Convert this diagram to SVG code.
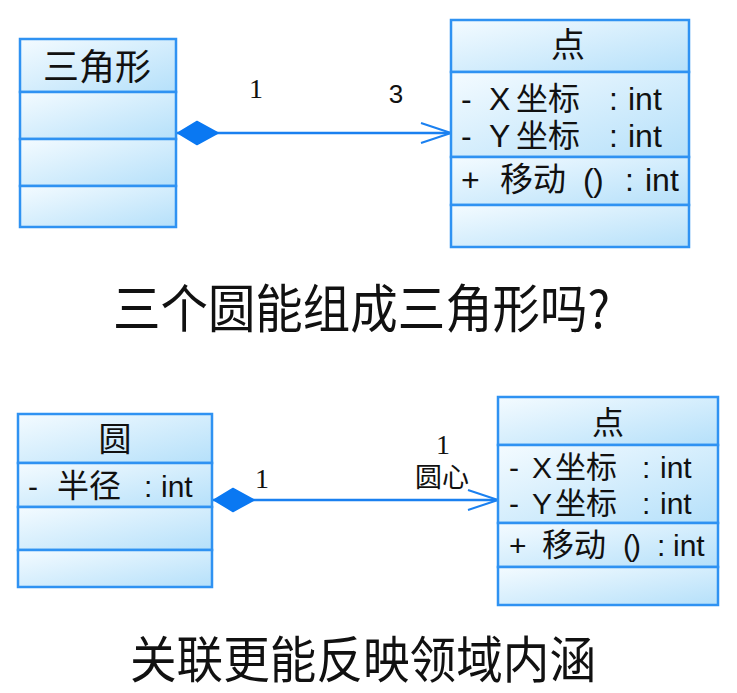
<svg xmlns="http://www.w3.org/2000/svg" width="737" height="693" viewBox="0 0 737 693">
<style>
  .cmp { fill: url(#g); stroke: #2f92f2; stroke-width: 2.5; }
  .t { font-family: "Liberation Sans", "Noto Sans CJK SC", sans-serif; fill: #111; }
  .cjk { font-family: "Noto Sans CJK SC", sans-serif; fill: #111; }
  .ser { font-family: "Liberation Serif", serif; fill: #111; }
  .conn { stroke: #1a80f0; stroke-width: 2.5; fill: none; }
</style>
<defs>
  <linearGradient id="g" x1="0" y1="0" x2="1" y2="1">
    <stop offset="0" stop-color="#f4fbff"/>
    <stop offset="1" stop-color="#b5e0fa"/>
  </linearGradient>
  <marker id="dia" viewBox="0 0 42 26" refX="0" refY="13" markerWidth="42" markerHeight="26" markerUnits="userSpaceOnUse" orient="auto">
    <path d="M1,13 L20,1.5 L41,13 L20,24.5 Z" fill="#0a78f2" stroke="#0a78f2" stroke-width="1.5" stroke-linejoin="round"/>
  </marker>
  <marker id="arr" viewBox="0 0 32 24" refX="31" refY="12" markerWidth="32" markerHeight="24" markerUnits="userSpaceOnUse" orient="auto">
    <path d="M1,2 L31,12 L1,22" fill="none" stroke="#1a80f0" stroke-width="2"/>
  </marker>
</defs>
<rect width="737" height="693" fill="#ffffff"/>

<g id="connectors">
  <path class="conn" d="M177,133 L451,133" marker-start="url(#dia)" marker-end="url(#arr)"/>
  <path class="conn" d="M213,500 L498,500" marker-start="url(#dia)" marker-end="url(#arr)"/>
  <text class="ser" x="256" y="98" font-size="28" text-anchor="middle">1</text>
  <text class="t" x="396" y="103" font-size="26" text-anchor="middle">3</text>
  <text class="ser" x="262" y="488" font-size="28" text-anchor="middle">1</text>
  <text class="ser" x="443" y="454" font-size="28" text-anchor="middle">1</text>
  <text class="cjk" x="442" y="487" font-size="27" text-anchor="middle">圆心</text>
</g>

<g id="triangle">
  <rect class="cmp" x="20" y="39" width="156" height="53"/>
  <rect class="cmp" x="20" y="92" width="156" height="47"/>
  <rect class="cmp" x="20" y="139" width="156" height="47"/>
  <rect class="cmp" x="20" y="186" width="156" height="41"/>
  <text class="cjk" x="97" y="80" font-size="36" text-anchor="middle">三角形</text>
</g>

<g id="point1">
  <rect class="cmp" x="451" y="20" width="238" height="52"/>
  <rect class="cmp" x="451" y="72" width="238" height="85"/>
  <rect class="cmp" x="451" y="157" width="238" height="48"/>
  <rect class="cmp" x="451" y="205" width="238" height="42"/>
  <text class="cjk" x="568" y="57" font-size="34" text-anchor="middle">点</text>
  <text class="t" y="110" font-size="32"><tspan x="461">-</tspan><tspan x="489">X</tspan><tspan x="516" class="cjk">坐标</tspan><tspan x="609">:</tspan><tspan x="628">int</tspan></text>
  <text class="t" y="147" font-size="32"><tspan x="461">-</tspan><tspan x="489">Y</tspan><tspan x="516" class="cjk">坐标</tspan><tspan x="609">:</tspan><tspan x="628">int</tspan></text>
  <text class="t" y="191" font-size="32"><tspan x="461">+</tspan><tspan x="500" class="cjk" font-size="33">移动</tspan><tspan x="583">(</tspan><tspan x="593">)</tspan><tspan x="625">:</tspan><tspan x="645">int</tspan></text>
</g>

<text class="cjk" x="113" y="328" font-size="52" textLength="497" lengthAdjust="spacingAndGlyphs">三个圆能组成三角形吗?</text>

<g id="circle">
  <rect class="cmp" x="18" y="414" width="194" height="49"/>
  <rect class="cmp" x="18" y="463" width="194" height="44"/>
  <rect class="cmp" x="18" y="507" width="194" height="43"/>
  <rect class="cmp" x="18" y="550" width="194" height="37"/>
  <text class="cjk" x="115" y="451" font-size="33" text-anchor="middle">圆</text>
  <text class="t" y="497" font-size="30"><tspan x="28">-</tspan><tspan x="57" class="cjk" font-size="32">半径</tspan><tspan x="144">:</tspan><tspan x="161">int</tspan></text>
</g>

<g id="point2">
  <rect class="cmp" x="498" y="397" width="220" height="48"/>
  <rect class="cmp" x="498" y="445" width="220" height="78"/>
  <rect class="cmp" x="498" y="523" width="220" height="44"/>
  <rect class="cmp" x="498" y="567" width="220" height="38"/>
  <text class="cjk" x="608" y="434" font-size="32" text-anchor="middle">点</text>
  <text class="t" y="478" font-size="30"><tspan x="509">-</tspan><tspan x="532">X</tspan><tspan x="555" class="cjk" font-size="31">坐标</tspan><tspan x="642">:</tspan><tspan x="660">int</tspan></text>
  <text class="t" y="514" font-size="30"><tspan x="509">-</tspan><tspan x="532">Y</tspan><tspan x="555" class="cjk" font-size="31">坐标</tspan><tspan x="642">:</tspan><tspan x="660">int</tspan></text>
  <text class="t" y="556" font-size="30"><tspan x="509">+</tspan><tspan x="542" class="cjk" font-size="32">移动</tspan><tspan x="623">(</tspan><tspan x="631">)</tspan><tspan x="657">:</tspan><tspan x="673">int</tspan></text>
</g>

<text class="cjk" x="130" y="678" font-size="50" textLength="466" lengthAdjust="spacingAndGlyphs">关联更能反映领域内涵</text>
</svg>
